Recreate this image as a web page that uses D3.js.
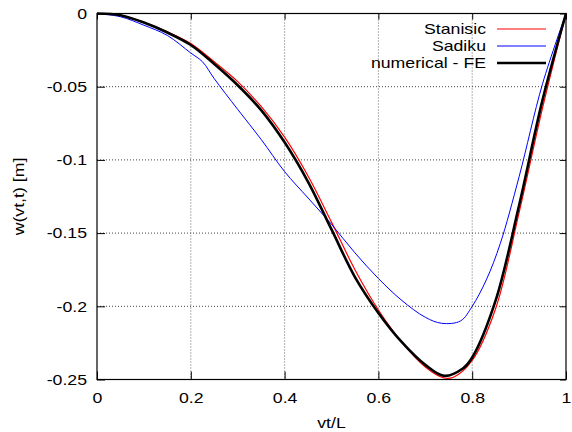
<!DOCTYPE html>
<html>
<head>
<meta charset="utf-8">
<script src="https://cdn.jsdelivr.net/npm/d3@7"></script>
<style>
  body { margin: 0; background: #fff; }
  text { font-family: "Liberation Sans", Arial, Helvetica, sans-serif; font-size: 15px; fill: #000; }
</style>
</head>
<body>
<svg width="572" height="432"></svg>
<script>
// ---- data ----
let xFE = [0, 0.05, 0.1, 0.15, 0.2, 0.25, 0.3, 0.35, 0.4, 0.45, 0.5, 0.55, 0.6, 0.65, 0.7, 0.74, 0.78, 0.8, 0.85, 0.9, 0.95, 1];
let yFE = [0, -0.0012, -0.0062, -0.013, -0.0215, -0.0345, -0.049, -0.066, -0.088, -0.115, -0.1475, -0.180, -0.2045, -0.2245, -0.240, -0.2475, -0.2425, -0.235, -0.196, -0.131, -0.059, 0];

let xStan = [0, 0.05, 0.1, 0.15, 0.2, 0.25, 0.3, 0.35, 0.4, 0.45, 0.5, 0.55, 0.6, 0.65, 0.7, 0.74, 0.76, 0.8, 0.85, 0.9, 0.95, 1];
let yStan = [0, -0.0011, -0.006, -0.0125, -0.0205, -0.033, -0.0465, -0.0635, -0.0845, -0.111, -0.1425, -0.175, -0.2025, -0.2245, -0.2415, -0.249, -0.2485, -0.237, -0.2015, -0.136, -0.0645, 0];

let xSad = [0, 0.05, 0.1, 0.15, 0.2, 0.225, 0.25, 0.3, 0.35, 0.4, 0.45, 0.5, 0.55, 0.6, 0.65, 0.7, 0.735, 0.775, 0.8, 0.83, 0.86, 0.9, 0.95, 1];
let ySad = [0, -0.0022, -0.008, -0.015, -0.027, -0.033, -0.0445, -0.0655, -0.086, -0.108, -0.126, -0.144, -0.1635, -0.181, -0.196, -0.2075, -0.2116, -0.21, -0.2, -0.182, -0.157, -0.1115, -0.048, 0];

let xTicks = [0, 0.2, 0.4, 0.6, 0.8, 1];
let yTicks = [0, -0.05, -0.1, -0.15, -0.2, -0.25];

let seriesNames = ["Stanisic", "Sadiku", "numerical - FE"];
let seriesColors = ["#ff0000", "#0000ff", "#000000"];
let seriesWidths = [1.2, 1, 2.6];

// ---- layout ----
let svg = d3.select("svg"),
    margin = {top: 13.5, right: 6, bottom: 52.5, left: 97},
    width = +svg.attr("width") - margin.left - margin.right,
    height = +svg.attr("height") - margin.top - margin.bottom;

let x = d3.scaleLinear().domain([0, 1]).range([0, width]),
    y = d3.scaleLinear().domain([-0.25, 0]).range([height, 0]);

let g = svg.append("g")
  .attr("transform", "translate(" + margin.left + "," + margin.top + ")");

// grid
g.append("g").selectAll("line")
  .data(xTicks.slice(1, -1))
  .enter().append("line")
    .attr("x1", d => x(d)).attr("x2", d => x(d))
    .attr("y1", 0).attr("y2", height)
    .attr("stroke", "#666").attr("stroke-dasharray", "1,2");

g.append("g").selectAll("line")
  .data(yTicks.slice(1, -1))
  .enter().append("line")
    .attr("x1", 0).attr("x2", width)
    .attr("y1", d => y(d)).attr("y2", d => y(d))
    .attr("stroke", "#444").attr("stroke-dasharray", "1,2");

// axes (inward ticks, mirrored)
let fmt = d => d === 0 ? "0" : String(d);

let ax = g.append("g")
  .attr("transform", "translate(0," + height + ")")
  .call(d3.axisBottom(x).tickValues(xTicks).tickFormat(fmt).tickSizeInner(-8).tickSizeOuter(0).tickPadding(13));
let ay = g.append("g")
  .call(d3.axisLeft(y).tickValues(yTicks).tickFormat(fmt).tickSizeInner(-8).tickSizeOuter(0).tickPadding(10));
let axTop = g.append("g")
  .call(d3.axisTop(x).tickValues(xTicks).tickFormat("").tickSizeInner(-6).tickSizeOuter(0));
let ayRight = g.append("g")
  .attr("transform", "translate(" + width + ",0)")
  .call(d3.axisRight(y).tickValues(yTicks).tickFormat("").tickSizeInner(-6).tickSizeOuter(0));

[ax, ay, axTop, ayRight].forEach(a => {
  a.select(".domain").remove();
  a.selectAll("text").attr("font-size", null).attr("font-family", null).attr("fill", "#000");
  a.selectAll("line").attr("stroke", "#000");
});

// curves
let line = d3.line()
  .x(d => x(d[0]))
  .y(d => y(d[1]))
  .curve(d3.curveCatmullRom.alpha(0.5));

let data = [d3.zip(xStan, yStan), d3.zip(xSad, ySad), d3.zip(xFE, yFE)];

g.selectAll(".curve")
  .data(data)
  .enter().append("path")
    .attr("class", "curve")
    .attr("fill", "none")
    .attr("stroke", (d, i) => seriesColors[i])
    .attr("stroke-width", (d, i) => seriesWidths[i])
    .attr("stroke-linejoin", "round")
    .attr("d", line);

// frame
g.append("rect")
  .attr("width", width).attr("height", height)
  .attr("fill", "none").attr("stroke", "#000").attr("stroke-width", 1.2);

// legend
let leg = g.append("g")
  .attr("transform", "translate(" + (486 - margin.left) + "," + (29 - margin.top) + ")");
let item = leg.selectAll(".item")
  .data(seriesNames)
  .enter().append("g")
    .attr("transform", (d, i) => "translate(0," + i * 17 + ")");
item.append("text")
  .attr("text-anchor", "end")
  .attr("dy", "0.35em")
  .text(d => d);
item.append("line")
  .attr("x1", 11).attr("x2", 60)
  .attr("stroke", (d, i) => seriesColors[i])
  .attr("stroke-width", (d, i) => seriesWidths[i]);

// axis titles
svg.append("text")
  .attr("x", margin.left + width / 2)
  .attr("y", 428)
  .attr("text-anchor", "middle")
  .text("vt/L");

svg.append("text")
  .attr("transform", "translate(24," + (margin.top + height / 2) + ") rotate(-90)")
  .attr("text-anchor", "middle")
  .text("w(vt,t) [m]");

// the reference font is set wider than Liberation Sans
svg.selectAll("text").each(function() {
  let len = this.getComputedTextLength();
  if (len > 0) d3.select(this).attr("textLength", len * 1.18).attr("lengthAdjust", "spacingAndGlyphs");
});
</script>
</body>
</html>
